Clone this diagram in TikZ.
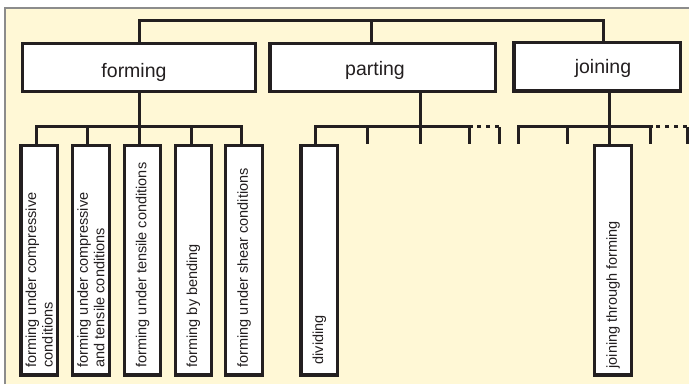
\documentclass[tikz,border=0pt]{standalone}
\usepackage{fontspec}
\setmainfont{Liberation Sans}
\definecolor{ink}{HTML}{231F20}
\definecolor{cream}{RGB}{255,248,214}
\definecolor{frame}{RGB}{140,140,140}
\begin{document}
\begin{tikzpicture}[x=1pt,y=-1pt,
  box/.style={draw=ink, line width=3.2pt, fill=white, inner sep=0pt, line join=miter},
  mainbox/.style={box, minimum height=47.5pt},
  subbox/.style={box, minimum width=36.5pt, minimum height=229.3pt},
  hlabel/.style={inner sep=0pt, anchor=base, text=ink, font=\fontsize{19.5}{22}\selectfont},
  vlabel/.style={inner sep=0pt, rotate=90, anchor=west, align=left, text=ink, font=\fontsize{14.5}{16.5}\selectfont},
  wire/.style={draw=ink, line width=3pt, line join=miter},
  dots/.style={wire, dash pattern=on 4pt off 5pt}]
\useasboundingbox (0,0) rectangle (689,384);
% background panel
\fill[cream] (4.5,8) rectangle (689,384);
\draw[frame, line width=2pt] (4.5,384) -- (4.5,8) -- (689,8);

% main boxes
\node[mainbox, minimum width=233.4pt] (forming) at (139,67.5) {};
\node[mainbox, minimum width=225.7pt] (parting) at (382.85,67.5) {};
\node[mainbox, minimum width=166.7pt, minimum height=48.7pt] (joining) at (597.35,66.65) {};
\node[hlabel] (tforming) at (134,77) {forming};
\node[hlabel] (tparting) at (375,75) {parting};
\node[hlabel] (tjoining) at (603,73) {joining};

% child boxes
\node[subbox] (c1) at (39.2,260.35) {};
\node[subbox] (c2) at (90.9,260.35) {};
\node[subbox] (c3) at (142.6,260.35) {};
\node[subbox] (c4) at (193.4,260.35) {};
\node[subbox] (c5) at (244,260.35) {};
\node[subbox] (dividing) at (319.3,260.35) {};
\node[subbox] (jtf) at (613,260.35) {};

\node[vlabel] (t1) at ([yshift=9pt]c1.south) {forming under compressive\\conditions};
\node[vlabel] (t2) at ([yshift=9pt]c2.south) {forming under compressive\\and tensile conditions};
\node[vlabel] (t3) at ([yshift=9pt]c3.south) {forming under tensile conditions};
\node[vlabel] (t4) at ([yshift=9pt]c4.south) {forming by bending};
\node[vlabel] (t5) at ([yshift=9pt]c5.south) {forming under shear conditions};
\node[vlabel] (t6) at ([yshift=12pt]dividing.south) {dividing};
\node[vlabel] (t7) at ([yshift=8pt]jtf.south) {joining through forming};

% top bus
\coordinate (tb1) at (139.3,20);
\coordinate (tb2) at (371.7,20);
\coordinate (tb3) at (603.3,20);
\draw[wire] (forming.north -| tb1) -- (tb1) -- (tb3) -- (joining.north -| tb3);
\draw[wire] (tb2) -- (parting.north -| tb2);

% forming sub-bus
\coordinate (s1) at (36,126.7);
\coordinate (s2) at (87.7,126.7);
\coordinate (s3) at (139.3,126.7);
\coordinate (s4) at (191,126.7);
\coordinate (s5) at (241.7,126.7);
\draw[wire] (forming.south -| s3) -- (c3.north -| s3);
\draw[wire] (c1.north -| s1) -- (s1) -- (s5) -- (c5.north -| s5);
\draw[wire] (s2) -- (c2.north -| s2);
\draw[wire] (s4) -- (c4.north -| s4);

% parting sub-bus
\coordinate (p1) at (315.7,126.7);
\coordinate (p2) at (367,126.7);
\coordinate (p3) at (420,126.7);
\coordinate (p4) at (469,126.7);
\coordinate (p4e) at (471.5,126.7);
\coordinate (p5) at (499,126.7);
\coordinate (p2b) at (367,143.5);
\coordinate (p3b) at (420,143.5);
\coordinate (p4b) at (469,143.5);
\coordinate (p5b) at (499,143.5);
\draw[wire] (parting.south -| p3) -- (p3b);
\draw[wire] (dividing.north -| p1) -- (p1) -- (p4e);
\draw[wire] (p2) -- (p2b);
\draw[wire] (p4) -- (p4b);
\draw[wire] (p5b) -- (p5);
\draw[dots] (p5) -- (p4e);

% joining sub-bus
\coordinate (j1) at (518.5,126.7);
\coordinate (j2) at (567.5,126.7);
\coordinate (j3) at (609.3,126.7);
\coordinate (j4) at (650,126.7);
\coordinate (j4e) at (652.5,126.7);
\coordinate (j5) at (687,126.7);
\coordinate (j1b) at (518.5,143.5);
\coordinate (j2b) at (567.5,143.5);
\coordinate (j4b) at (650,143.5);
\coordinate (j5b) at (687,143.5);
\draw[wire] (joining.south -| j3) -- (jtf.north -| j3);
\draw[wire] (j1b) -- (j1) -- (j4e);
\draw[wire] (j2) -- (j2b);
\draw[wire] (j4) -- (j4b);
\draw[wire] (j5b) -- (j5);
\draw[dots] (j5) -- (j4e);
\end{tikzpicture}
\end{document}
